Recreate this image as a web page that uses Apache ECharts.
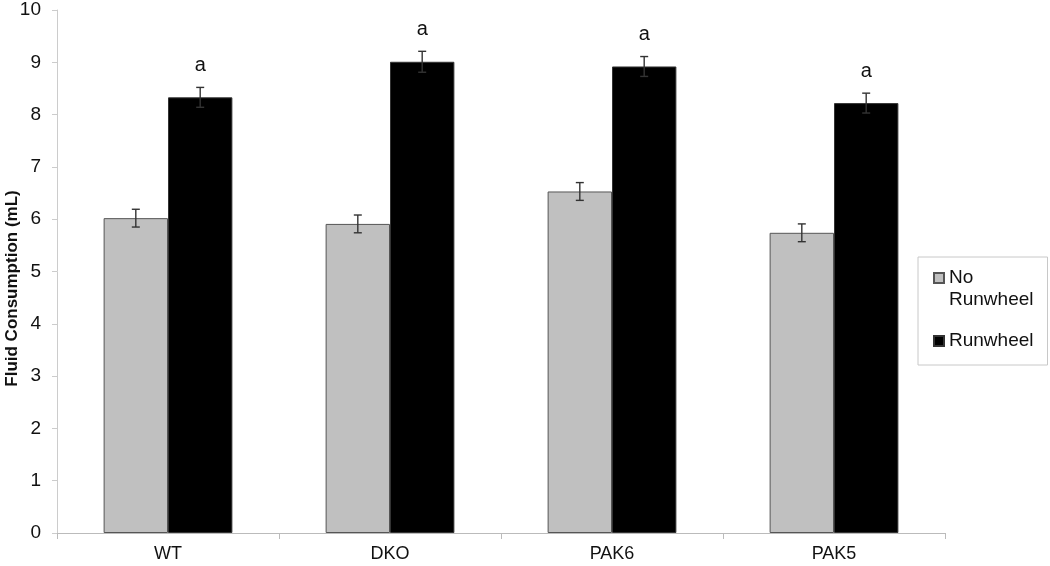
<!DOCTYPE html>
<html>
<head>
<meta charset="utf-8">
<script src="https://cdn.jsdelivr.net/npm/echarts@6/dist/echarts.min.js"></script>
<style>html,body{margin:0;padding:0;background:#fff}#c{width:1050px;height:566px}</style>
</head>
<body>
<div id="c"></div>
<script>
var categories = ['WT', 'DKO', 'PAK6', 'PAK5'];
var seriesNames = ['No\nRunwheel', 'Runwheel'];
var noRunwheel = [6.02, 5.91, 6.53, 5.74];
var noRunwheelErr = [0.17, 0.17, 0.17, 0.17];
var runwheel = [8.33, 9.01, 8.92, 8.22];
var runwheelErr = [0.19, 0.20, 0.19, 0.19];
var runwheelMarks = ['a', 'a', 'a', 'a'];
var yTicks = [0, 1, 2, 3, 4, 5, 6, 7, 8, 9, 10];

var FONT = '"Liberation Sans", Arial, sans-serif';

function errData(vals, errs, marks) {
  return vals.map(function (v, i) { return [i, v, errs[i], marks ? marks[i] : '']; });
}

function errRender(seriesIdx) {
  return function (params, api) {
    var ci = api.value(0), v = api.value(1), e = api.value(2), mark = api.value(3);
    var center = api.coord([ci, v]);
    var bandW = api.size([1, 0])[0];
    var barW = bandW * 0.29;
    var x = center[0] + (seriesIdx === 0 ? -barW / 2 : barW / 2);
    var yTop = api.coord([ci, v + e])[1];
    var yBot = api.coord([ci, v - e])[1];
    var cap = 4;
    var style = { stroke: '#333', lineWidth: 1.4 };
    var children = [
      { type: 'line', shape: { x1: x, y1: yTop, x2: x, y2: yBot }, style: style },
      { type: 'line', shape: { x1: x - cap, y1: yTop, x2: x + cap, y2: yTop }, style: style },
      { type: 'line', shape: { x1: x - cap, y1: yBot, x2: x + cap, y2: yBot }, style: style }
    ];
    if (mark) {
      children.push({ type: 'text', style: { text: String(mark), x: x, y: yTop - 22, align: 'center', verticalAlign: 'middle', fontSize: 20, fontFamily: FONT, fill: '#111' } });
    }
    return { type: 'group', children: children };
  };
}

var chart = echarts.init(document.getElementById('c'), null, { renderer: 'canvas' });
chart.setOption({
  backgroundColor: '#fff',
  animation: false,
  grid: { left: 57, right: 105, top: 10, bottom: 33, containLabel: false, outerBoundsMode: 'none' },
  legend: {
    orient: 'vertical',
    left: 918,
    top: 257,
    padding: [10, 14, 7, 15],
    itemWidth: 10,
    itemHeight: 32,
    itemGap: 13,
    borderColor: '#c8c8c8',
    borderWidth: 1,
    backgroundColor: '#fff',
    textStyle: { fontSize: 19, fontFamily: FONT, color: '#111', lineHeight: 22 },
    data: [
      { name: seriesNames[0], icon: 'path://M0,0L10,0L10,10L0,10Z M0,32' },
      { name: seriesNames[1], icon: 'path://M0,0 M0,11L10,11L10,21L0,21Z M0,32' }
    ]
  },
  xAxis: {
    type: 'category',
    data: categories,
    axisLine: { lineStyle: { color: '#bbb', width: 1 } },
    axisTick: { show: true, length: 6, lineStyle: { color: '#bbb' } },
    axisLabel: { fontSize: 18, fontFamily: FONT, color: '#111', margin: 12 }
  },
  yAxis: {
    type: 'value',
    min: 0,
    max: 10,
    interval: 1,
    name: 'Fluid Consumption (mL)',
    nameLocation: 'middle',
    nameGap: 36,
    nameMoveOverlap: false,
    nameTextStyle: { fontSize: 17, fontWeight: 'bold', fontFamily: FONT, color: '#111', padding: [0, 34, 0, 0] },
    axisLine: { show: true, lineStyle: { color: '#ccc', width: 1 } },
    axisTick: { show: true, length: 5, lineStyle: { color: '#ccc' } },
    splitLine: { show: false },
    axisLabel: {
      fontSize: 19, fontFamily: FONT, color: '#111', margin: 16,
      formatter: function (v) { return yTicks.indexOf(v) >= 0 ? String(v) : ''; }
    }
  },
  series: [
    {
      name: seriesNames[0], type: 'bar', data: noRunwheel,
      barWidth: '29%', barGap: '0%',
      itemStyle: { color: '#c0c0c0', borderColor: '#555', borderWidth: 1 }
    },
    {
      name: seriesNames[1], type: 'bar', data: runwheel,
      barWidth: '29%', barGap: '0%',
      itemStyle: { color: '#000', borderColor: '#333', borderWidth: 1 }
    },
    {
      type: 'custom', renderItem: errRender(0), data: errData(noRunwheel, noRunwheelErr),
      encode: { x: 0, y: 1 }, z: 10, silent: true
    },
    {
      type: 'custom', renderItem: errRender(1), data: errData(runwheel, runwheelErr, runwheelMarks),
      encode: { x: 0, y: 1 }, z: 10, silent: true
    }
  ]
});
</script>
</body>
</html>
